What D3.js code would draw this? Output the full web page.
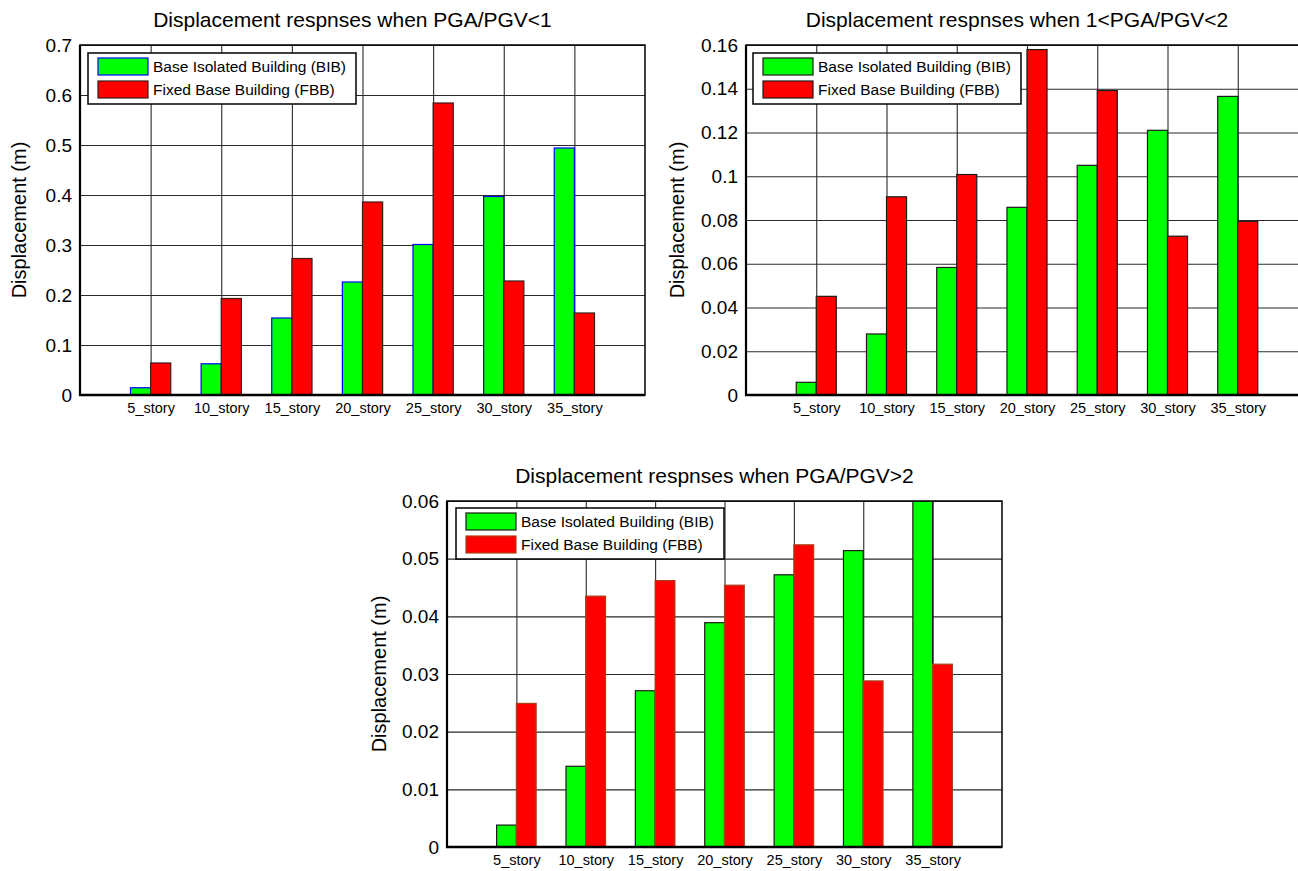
<!DOCTYPE html>
<html>
<head>
<meta charset="utf-8">
<script src="https://cdn.jsdelivr.net/npm/d3@7/dist/d3.min.js"></script>
<style>
  html, body { margin: 0; padding: 0; background: #fff; overflow: hidden; }
  svg { display: block; font-family: "Liberation Sans", Arial, Helvetica, sans-serif; }
</style>
</head>
<body>
<svg id="chart" width="1298" height="871"></svg>
<script>
// ---------- data ----------
const categories = ["5_story", "10_story", "15_story", "20_story", "25_story", "30_story", "35_story"];
const seriesNames = ["Base Isolated Building (BIB)", "Fixed Base Building (FBB)"];

const bib1 = [0.0145, 0.0624, 0.154, 0.226, 0.301, 0.397, 0.494];
const fbb1 = [0.064, 0.193, 0.273, 0.386, 0.584, 0.228, 0.164];

const bib2 = [0.0058, 0.0279, 0.0583, 0.0858, 0.105, 0.121, 0.1365];
const fbb2 = [0.0451, 0.0906, 0.1008, 0.1579, 0.1392, 0.0726, 0.0794];

const bib3 = [0.0038, 0.0140, 0.0271, 0.0389, 0.0472, 0.0514, 0.0600];
const fbb3 = [0.0249, 0.0435, 0.0462, 0.0454, 0.0524, 0.0288, 0.0317];

const yTicks1 = [0, 0.1, 0.2, 0.3, 0.4, 0.5, 0.6, 0.7];
const yTicks2 = [0, 0.02, 0.04, 0.06, 0.08, 0.1, 0.12, 0.14, 0.16];
const yTicks3 = [0, 0.01, 0.02, 0.03, 0.04, 0.05, 0.06];

const titles = [
  "Displacement respnses when PGA/PGV<1",
  "Displacement respnses when 1<PGA/PGV<2",
  "Displacement respnses when PGA/PGV>2"
];
const yLabel = "Displacement (m)";

// ---------- layout / style ----------
const panels = [
  { left: 80, right: 645, top: 45, bottom: 395, ymax: 0.7, ticks: yTicks1, bib: bib1, fbb: fbb1,
    title: titles[0], ylabX: 19, legend: { x: 88, y: 53 },
    bibEdge: "#0000ff", fbbEdge: "#3a1a1a" },
  { left: 746, right: 1308, top: 45, bottom: 395, ymax: 0.16, ticks: yTicks2, bib: bib2, fbb: fbb2,
    title: titles[1], ylabX: 677, legend: { x: 753, y: 53 },
    bibEdge: "#1a1a1a", fbbEdge: "#1a1a1a" },
  { left: 447, right: 1002, top: 501, bottom: 847, ymax: 0.06, ticks: yTicks3, bib: bib3, fbb: fbb3,
    title: titles[2], ylabX: 379, legend: { x: 456, y: 508 },
    bibEdge: "#1a1a1a", fbbEdge: "#a8401a" }
];

const GREEN = "#00ff00", RED = "#ff0000";
const barW = 0.285; // in category units

const svg = d3.select("#chart");

panels.forEach((p) => {
  const g = svg.append("g");
  const x = d3.scaleLinear().domain([0, 8]).range([p.left, p.right]);
  const y = d3.scaleLinear().domain([0, p.ymax]).range([p.bottom, p.top]);
  const W = p.right - p.left, H = p.bottom - p.top;

  const clipId = "clip" + p.left;
  svg.append("clipPath").attr("id", clipId)
    .append("rect").attr("x", p.left).attr("y", p.top).attr("width", W).attr("height", H);

  const yAxis = d3.axisLeft(y).tickValues(p.ticks)
    .tickFormat(d => String(+d.toFixed(3)))
    .tickSizeInner(-W).tickSizeOuter(0).tickPadding(8);
  const ya = g.append("g").attr("transform", `translate(${p.left},0)`).call(yAxis);
  ya.select(".domain").remove();
  ya.selectAll(".tick line").attr("stroke", "#2a2a2a").attr("stroke-width", 1.1);
  ya.selectAll(".tick text").attr("font-size", 19).attr("fill", "#000")
    .attr("font-family", "'Liberation Sans', Arial, sans-serif");

  const xAxis = d3.axisBottom(x).tickValues(d3.range(1, 8))
    .tickFormat(i => categories[i - 1])
    .tickSizeInner(-H).tickSizeOuter(0).tickPadding(8);
  const xa = g.append("g").attr("transform", `translate(0,${p.bottom})`).call(xAxis);
  xa.select(".domain").remove();
  xa.selectAll(".tick line").attr("stroke", "#2a2a2a").attr("stroke-width", 1.1);
  xa.selectAll(".tick text").attr("font-size", 14.5).attr("fill", "#000")
    .attr("font-family", "'Liberation Sans', Arial, sans-serif");

  const bars = g.append("g").attr("clip-path", `url(#${clipId})`);
  const rows = categories.map((c, i) => ({ i: i + 1, bib: p.bib[i], fbb: p.fbb[i] }));
  bars.selectAll("rect.bib").data(rows).enter().append("rect")
    .attr("class", "bib")
    .attr("x", d => x(d.i - barW)).attr("width", x(barW) - x(0))
    .attr("y", d => y(d.bib)).attr("height", d => y(0) - y(d.bib))
    .attr("fill", GREEN).attr("stroke", p.bibEdge).attr("stroke-width", 1.2);
  bars.selectAll("rect.fbb").data(rows).enter().append("rect")
    .attr("class", "fbb")
    .attr("x", d => x(d.i)).attr("width", x(barW) - x(0))
    .attr("y", d => y(d.fbb)).attr("height", d => y(0) - y(d.fbb))
    .attr("fill", RED).attr("stroke", p.fbbEdge).attr("stroke-width", 1.2);

  g.append("rect").attr("x", p.left).attr("y", p.top).attr("width", W).attr("height", H)
    .attr("fill", "none").attr("stroke", "#000").attr("stroke-width", 1.5);
  g.append("line").attr("x1", p.left).attr("x2", p.left).attr("y1", p.top).attr("y2", p.bottom + 1)
    .attr("stroke", "#000").attr("stroke-width", 2.2);
  g.append("line").attr("x1", p.left - 1).attr("x2", p.right).attr("y1", p.bottom).attr("y2", p.bottom)
    .attr("stroke", "#000").attr("stroke-width", 2.4);

  g.append("text").attr("x", (p.left + p.right) / 2 - 10).attr("y", p.top - 18)
    .attr("text-anchor", "middle").attr("font-size", 21).attr("fill", "#000").text(p.title);

  g.append("text")
    .attr("transform", `translate(${p.ylabX},${(p.top + p.bottom) / 2}) rotate(-90)`)
    .attr("text-anchor", "middle").attr("dominant-baseline", "central")
    .attr("font-size", 20).attr("fill", "#000").text(yLabel);

  const lg = g.append("g").attr("transform", `translate(${p.legend.x},${p.legend.y})`);
  lg.append("rect").attr("x", 0).attr("y", 0).attr("width", 268).attr("height", 51)
    .attr("fill", "#fff").attr("stroke", "#000").attr("stroke-width", 1.5);
  const items = [
    { name: seriesNames[0], fill: GREEN, edge: p.bibEdge },
    { name: seriesNames[1], fill: RED, edge: p.fbbEdge }
  ];
  items.forEach((it, k) => {
    lg.append("rect").attr("x", 10).attr("y", 5 + k * 23).attr("width", 50).attr("height", 17)
      .attr("fill", it.fill).attr("stroke", it.edge).attr("stroke-width", 1.2);
    lg.append("text").attr("x", 65).attr("y", 19 + k * 23)
      .attr("font-size", 15.5).attr("fill", "#000").text(it.name);
  });
});
</script>
</body>
</html>
